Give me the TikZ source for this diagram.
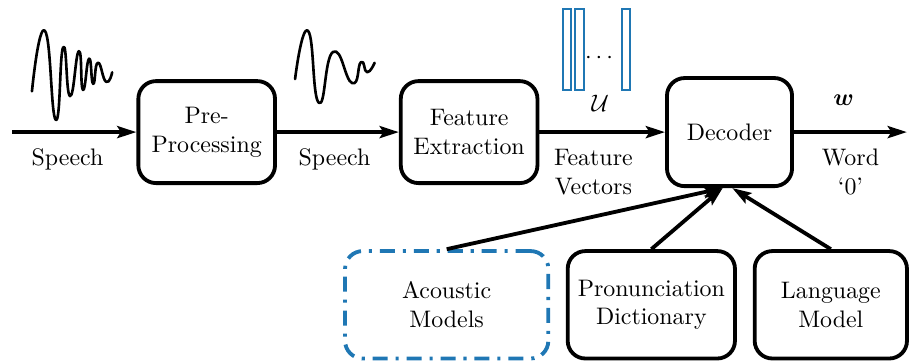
\documentclass[tikz,border=0pt]{standalone}
\usepackage{amsmath}
\usepackage{tikz}
\usepackage{xcolor}
\usetikzlibrary{arrows.meta, positioning}
\definecolor{VecBlue}{HTML}{1F77B4}

\begin{document}
\begin{tikzpicture}[
    >=Stealth,
    every node/.style={align=center},
    stage/.style={
      draw, rounded corners=0.26cm, line width=1.6pt,
      minimum width=2.01cm, minimum height=1.5cm, inner sep=2pt,
    },
    model/.style={stage, minimum height=1.58cm},
    amodel/.style={
      model, draw=VecBlue,
      dash pattern=on 6.3pt off 3.3pt on 1.3pt off 3.3pt,
    },
    flow/.style={
      line width=1.6pt,
      -{Stealth[length=8pt, width=5pt, inset=1.5pt]}
    },
    wave/.style={line width=1.1pt, line join=round, line cap=round},
    vec/.style={draw=VecBlue, line width=0.8pt},
  ]
    \useasboundingbox (0,0) rectangle (13.37,5.353);

    % processing chain
    \node[stage] (pre) at (3.04,3.41) {Pre-\\Processing};
    \node[stage] (feat) at (6.90,3.41) {Feature\\Extraction};
    \node[stage, minimum width=1.84cm, minimum height=1.59cm] (dec)
      at (10.73,3.41) {Decoder};

    % knowledge sources
    \node[amodel, minimum width=2.99cm] (am) at (6.57,0.87) {Acoustic\\Models};
    \node[model, minimum width=2.46cm] (pd) at (9.58,0.87)
      {Pronunciation\\Dictionary};
    \node[model, minimum width=2.24cm] (lm) at (12.22,0.87) {Language\\Model};

    \coordinate (in) at (0.18,3.41);
    \coordinate (out) at (13.34,3.41);

    \draw[flow] (in) -- (pre)
      node[midway, below=3pt, xshift=-0.1cm] (lbin) {Speech};
    \draw[flow] (pre) -- (feat)
      node[midway, below=3pt, xshift=-0.05cm] (lbmid) {Speech};
    \draw[flow] (feat) -- (dec)
      node[midway, below=3pt, xshift=-0.13cm] (lbfv) {Feature\\Vectors}
      node[midway, above=4.6pt, xshift=-0.03cm] (lbu) {$\mathcal{U}$};
    \draw[flow] (dec) -- (out)
      node[midway, below=3pt] (lbword) {Word\\`0'}
      node[midway, above=7pt, xshift=-0.1cm] (lbw) {$\boldsymbol{w}$};

    \draw[flow] (am.north) -- ([xshift=-0.1cm]dec.south);
    \draw[flow] (pd.north) -- ([xshift=-0.1cm]dec.south);
    \draw[flow] (lm.north) -- ([xshift=0.04cm]dec.south);

    % raw and pre-processed speech
    \draw[wave] plot[smooth, tension=0.95] coordinates {
      (0.47,4.01) (0.66,4.90) (0.82,3.59) (0.93,4.66) (1.03,3.94)
      (1.16,4.60) (1.22,4.03) (1.31,4.49) (1.37,4.12) (1.44,4.43)
      (1.56,4.15) (1.65,4.29)};
    \draw[wave] plot[smooth, tension=0.95] coordinates {
      (4.34,4.19) (4.53,4.90) (4.69,3.84) (4.90,4.59) (5.18,4.13)
      (5.31,4.44) (5.40,4.29) (5.51,4.43)};

    % feature vectors
    \draw[vec] (8.28,4.03) rectangle (8.40,5.22);
    \draw[vec] (8.46,4.03) rectangle (8.59,5.22);
    \draw[vec] (9.15,4.03) rectangle (9.26,5.22);
    \node (dots) at (8.84,4.50) {$\cdots$};
  \end{tikzpicture}
\end{document}
